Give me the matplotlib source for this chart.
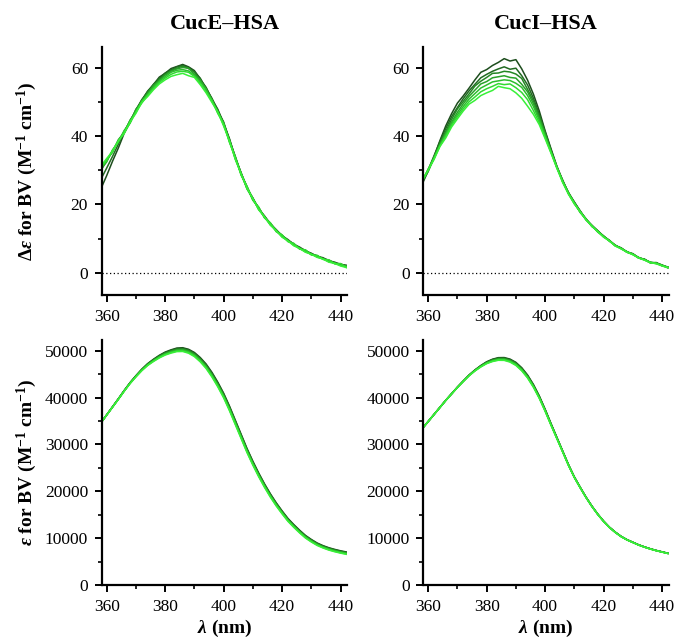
import matplotlib
matplotlib.use("Agg")
import matplotlib.pyplot as plt
from matplotlib.ticker import MultipleLocator

plt.rcParams['font.family'] = ['Liberation Serif', 'DejaVu Serif']
plt.rcParams['mathtext.fontset'] = 'custom'
plt.rcParams['mathtext.rm'] = 'Liberation Serif:bold'
plt.rcParams['mathtext.it'] = 'Liberation Serif:italic:bold'
plt.rcParams['mathtext.bf'] = 'Liberation Serif:bold'

# wavelength grid (nm)
wl = list(range(358, 443, 2))

# CD spectra, CucE-HSA (delta epsilon)
cd_cuce = [
    [24.5, 28.4, 32.6, 36.5, 40.8, 43.9, 47.7, 50.4, 53.1, 55.0, 57.2, 58.3, 59.7, 60.3, 60.9, 60.2, 59.1, 56.6, 54.2, 50.8, 47.8, 43.7, 39.2, 33.6, 29.2, 24.8, 21.8, 18.7, 16.6, 14.3, 12.6, 10.8, 9.7, 8.3, 7.5, 6.4, 5.7, 4.8, 4.4, 3.5, 3.1, 2.4, 2.2],
    [27.3, 30.6, 34.0, 37.6, 41.2, 44.4, 47.4, 50.6, 52.8, 55.1, 56.8, 58.4, 59.3, 60.2, 60.6, 60.0, 58.8, 56.9, 53.8, 51.0, 47.3, 44.1, 38.8, 34.0, 28.9, 25.2, 21.4, 19.1, 16.2, 14.5, 12.3, 11.0, 9.4, 8.5, 7.1, 6.6, 5.4, 5.0, 4.1, 3.7, 2.8, 2.6, 2.0],
    [29.8, 32.9, 35.4, 38.9, 41.0, 44.6, 47.2, 50.2, 52.9, 54.6, 56.6, 57.9, 59.1, 59.8, 60.4, 59.7, 58.6, 56.2, 54.0, 50.5, 47.5, 43.4, 38.9, 33.3, 29.1, 24.6, 21.9, 18.5, 16.5, 14.0, 12.5, 10.6, 9.5, 8.1, 7.3, 6.2, 5.6, 4.7, 4.2, 3.3, 2.9, 2.2, 2.0],
    [30.2, 32.4, 35.9, 38.3, 41.6, 44.0, 47.8, 49.9, 52.4, 54.8, 56.1, 57.8, 58.9, 59.6, 60.0, 59.8, 58.0, 56.4, 53.5, 50.7, 46.8, 43.8, 38.3, 33.9, 28.6, 25.0, 21.3, 18.9, 16.1, 14.3, 12.1, 10.8, 9.2, 8.4, 7.0, 6.4, 5.3, 4.9, 4.0, 3.5, 2.7, 2.4, 1.8],
    [30.6, 33.1, 35.2, 38.7, 40.9, 44.5, 46.9, 50.3, 52.1, 54.2, 56.0, 57.3, 58.6, 59.2, 59.4, 59.0, 57.7, 55.8, 53.7, 50.1, 47.2, 43.2, 38.7, 33.4, 29.0, 24.5, 21.6, 18.6, 16.4, 14.1, 12.4, 10.5, 9.5, 8.0, 7.2, 6.1, 5.5, 4.6, 4.1, 3.2, 2.9, 2.1, 1.9],
    [30.9, 32.7, 35.8, 38.2, 41.4, 43.7, 47.1, 49.6, 51.9, 53.8, 55.6, 56.9, 58.0, 58.7, 58.9, 58.6, 57.4, 55.3, 52.9, 50.4, 46.6, 43.6, 38.1, 33.8, 28.5, 25.3, 21.2, 19.2, 16.0, 14.6, 12.0, 11.1, 9.1, 8.6, 6.9, 6.7, 5.2, 5.1, 3.9, 3.8, 2.6, 2.7, 1.6],
    [31.2, 33.4, 35.5, 38.6, 40.7, 44.1, 46.6, 49.8, 51.5, 53.5, 55.2, 56.4, 57.4, 57.9, 58.3, 57.6, 57.1, 55.0, 52.6, 49.8, 47.0, 42.9, 38.5, 33.1, 28.9, 24.7, 21.7, 18.4, 16.3, 13.9, 12.3, 10.4, 9.3, 7.9, 7.1, 6.0, 5.4, 4.5, 4.0, 3.1, 2.7, 2.0, 1.5],
]

# CD spectra, CucI-HSA (delta epsilon)
cd_cuci = [
    [26.0, 29.8, 33.9, 38.6, 42.9, 46.5, 49.6, 51.7, 54.0, 56.4, 58.6, 59.4, 60.6, 61.5, 62.6, 61.9, 62.3, 59.6, 56.3, 52.2, 47.3, 41.5, 36.3, 31.2, 27.0, 23.4, 20.6, 18.1, 15.6, 13.9, 12.3, 10.7, 9.4, 8.0, 7.2, 6.1, 5.5, 4.4, 3.9, 3.0, 2.9, 2.2, 1.6],
    [26.4, 30.1, 34.2, 38.3, 42.1, 45.6, 48.3, 50.9, 53.2, 55.1, 57.0, 58.0, 58.9, 59.6, 60.2, 59.5, 59.8, 57.6, 54.9, 51.0, 46.4, 41.2, 36.0, 31.0, 26.8, 23.3, 20.7, 17.9, 15.7, 13.7, 12.2, 10.6, 9.5, 7.9, 7.3, 6.0, 5.6, 4.3, 4.0, 2.9, 3.0, 2.1, 1.7],
    [26.6, 29.6, 33.6, 37.9, 41.3, 44.8, 47.9, 50.1, 52.3, 54.6, 56.0, 57.1, 58.3, 58.4, 58.9, 58.7, 58.1, 56.8, 53.6, 50.2, 45.8, 40.8, 35.7, 30.8, 27.1, 23.1, 20.4, 18.0, 15.5, 13.8, 12.0, 10.8, 9.3, 8.1, 7.1, 6.2, 5.4, 4.5, 3.8, 3.1, 2.8, 2.3, 1.5],
    [26.8, 30.3, 33.4, 37.5, 40.8, 44.0, 46.9, 49.4, 51.6, 53.4, 55.2, 55.9, 57.0, 57.3, 57.6, 57.1, 56.9, 55.1, 52.9, 49.4, 45.2, 40.6, 35.5, 31.1, 26.6, 23.5, 20.3, 17.7, 15.8, 13.5, 12.3, 10.5, 9.4, 7.9, 7.2, 6.0, 5.5, 4.3, 3.9, 2.9, 2.9, 2.0, 1.6],
    [27.1, 29.9, 33.8, 37.2, 40.4, 43.6, 46.2, 48.6, 50.8, 52.4, 54.0, 54.9, 55.8, 56.1, 56.4, 56.2, 55.4, 54.2, 51.8, 48.6, 44.6, 40.1, 35.4, 30.7, 26.9, 23.2, 20.5, 17.6, 15.6, 13.7, 12.0, 10.7, 9.2, 8.0, 7.0, 6.1, 5.3, 4.4, 3.7, 3.0, 2.8, 2.2, 1.4],
    [26.9, 30.2, 33.3, 37.0, 39.9, 43.1, 45.6, 47.9, 50.0, 51.4, 52.9, 53.8, 54.5, 55.3, 55.0, 55.2, 54.1, 52.7, 50.6, 47.4, 43.9, 39.6, 35.2, 30.9, 26.5, 23.0, 20.1, 17.9, 15.4, 13.8, 11.9, 10.5, 9.4, 7.9, 7.1, 6.1, 5.4, 4.4, 3.8, 3.1, 2.6, 2.1, 1.6],
    [27.0, 30.0, 33.1, 36.9, 39.4, 42.6, 45.0, 47.3, 49.3, 50.4, 51.8, 52.6, 53.3, 54.5, 54.1, 53.8, 52.6, 51.0, 48.7, 46.3, 43.3, 39.2, 35.0, 30.6, 26.4, 23.0, 20.2, 17.8, 15.5, 13.6, 12.1, 10.4, 9.3, 7.8, 7.0, 6.0, 5.3, 4.3, 3.7, 2.9, 2.7, 2.0, 1.5],
]

# absorption spectra, CucE-HSA (epsilon)
abs_cuce = [
    [34600, 36320, 38040, 39760, 41530, 43200, 44680, 46060, 47250, 48190, 49030, 49720, 50200, 50580, 50650, 50320, 49640, 48560, 47180, 45400, 43300, 40950, 38200, 35180, 32160, 29140, 26420, 23900, 21580, 19460, 17540, 15820, 14210, 12900, 11690, 10580, 9720, 8960, 8400, 7950, 7600, 7300, 7050],
    [34600, 36310, 38030, 39740, 41500, 43170, 44640, 46010, 47180, 48110, 48940, 49610, 50080, 50450, 50520, 50180, 49490, 48410, 47020, 45230, 43130, 40780, 38030, 35020, 32010, 28990, 26280, 23770, 21450, 19340, 17430, 15710, 14110, 12800, 11590, 10490, 9630, 8870, 8320, 7870, 7520, 7220, 6970],
    [34600, 36310, 38010, 39720, 41480, 43130, 44590, 45950, 47120, 48030, 48840, 49510, 49970, 50330, 50380, 50040, 49350, 48250, 46860, 45070, 42970, 40620, 37870, 34860, 31850, 28850, 26140, 23630, 21330, 19220, 17310, 15610, 14000, 12700, 11500, 10390, 9540, 8790, 8230, 7780, 7430, 7130, 6880],
    [34600, 36300, 38000, 39700, 41450, 43100, 44550, 45900, 47050, 47950, 48750, 49400, 49850, 50200, 50250, 49900, 49200, 48100, 46700, 44900, 42800, 40450, 37700, 34700, 31700, 28700, 26000, 23500, 21200, 19100, 17200, 15500, 13900, 12600, 11400, 10300, 9450, 8700, 8150, 7700, 7350, 7050, 6800],
    [34600, 36290, 37990, 39680, 41420, 43070, 44510, 45850, 46980, 47870, 48660, 49290, 49730, 50070, 50120, 49760, 49050, 47950, 46540, 44730, 42630, 40280, 37530, 34540, 31550, 28550, 25860, 23370, 21070, 18980, 17090, 15390, 13800, 12500, 11300, 10210, 9360, 8610, 8070, 7620, 7270, 6970, 6720],
    [34600, 36290, 37970, 39660, 41400, 43030, 44460, 45790, 46920, 47790, 48560, 49190, 49620, 49950, 49980, 49620, 48910, 47790, 46380, 44570, 42470, 40120, 37370, 34380, 31390, 28410, 25720, 23230, 20950, 18860, 16970, 15290, 13690, 12400, 11210, 10110, 9270, 8530, 7980, 7530, 7180, 6880, 6630],
    [34600, 36280, 37960, 39640, 41370, 43000, 44420, 45740, 46850, 47710, 48470, 49080, 49500, 49820, 49850, 49480, 48760, 47640, 46220, 44400, 42300, 39950, 37200, 34220, 31240, 28260, 25580, 23100, 20820, 18740, 16860, 15180, 13590, 12300, 11110, 10020, 9180, 8440, 7900, 7450, 7100, 6800, 6550],
]

# absorption spectra, CucI-HSA (epsilon)
abs_cuci = [
    [33400, 34900, 36410, 37910, 39420, 40830, 42240, 43550, 44830, 45910, 46850, 47650, 48200, 48530, 48550, 48220, 47530, 46380, 44820, 42800, 40360, 37520, 34480, 31540, 28610, 25690, 23070, 20860, 18750, 16850, 15140, 13640, 12340, 11290, 10380, 9680, 9130, 8580, 8130, 7730, 7380, 7080, 6780],
    [33400, 34900, 36410, 37910, 39410, 40820, 42230, 43530, 44800, 45870, 46800, 47580, 48120, 48440, 48450, 48110, 47420, 46270, 44710, 42700, 40270, 37450, 34420, 31490, 28570, 25660, 23050, 20840, 18730, 16830, 15130, 13630, 12330, 11280, 10370, 9670, 9120, 8570, 8120, 7720, 7370, 7070, 6770],
    [33400, 34900, 36400, 37900, 39410, 40810, 42210, 43520, 44780, 45840, 46750, 47520, 48030, 48340, 48350, 48010, 47310, 46160, 44610, 42600, 40190, 37370, 34360, 31450, 28540, 25630, 23020, 20820, 18720, 16820, 15110, 13610, 12310, 11260, 10360, 9660, 9110, 8560, 8110, 7710, 7360, 7060, 6760],
    [33400, 34900, 36400, 37900, 39400, 40800, 42200, 43500, 44750, 45800, 46700, 47450, 47950, 48250, 48250, 47900, 47200, 46050, 44500, 42500, 40100, 37300, 34300, 31400, 28500, 25600, 23000, 20800, 18700, 16800, 15100, 13600, 12300, 11250, 10350, 9650, 9100, 8550, 8100, 7700, 7350, 7050, 6750],
    [33400, 34900, 36400, 37900, 39390, 40790, 42190, 43480, 44720, 45760, 46650, 47380, 47870, 48160, 48150, 47790, 47090, 45940, 44390, 42400, 40010, 37230, 34240, 31350, 28460, 25570, 22980, 20780, 18680, 16780, 15090, 13590, 12290, 11240, 10340, 9640, 9090, 8540, 8090, 7690, 7340, 7040, 6740],
    [33400, 34900, 36390, 37890, 39390, 40780, 42170, 43470, 44700, 45730, 46600, 47320, 47780, 48060, 48050, 47690, 46980, 45830, 44290, 42300, 39930, 37150, 34180, 31310, 28430, 25540, 22950, 20760, 18670, 16770, 15070, 13570, 12270, 11220, 10330, 9630, 9080, 8530, 8080, 7680, 7330, 7030, 6730],
    [33400, 34900, 36390, 37890, 39380, 40770, 42160, 43450, 44670, 45690, 46550, 47250, 47700, 47970, 47950, 47580, 46870, 45720, 44180, 42200, 39840, 37080, 34120, 31260, 28390, 25510, 22930, 20740, 18650, 16750, 15060, 13560, 12260, 11210, 10320, 9620, 9070, 8520, 8070, 7670, 7320, 7020, 6720],
]

titles = ["CucE\u2013HSA", "CucI\u2013HSA"]
greens = ['#1d4d1d', '#216a21', '#258625', '#29a229', '#2dbd2d', '#31d931', '#38f038']

fig = plt.figure(figsize=(6.78, 6.43), dpi=100)
W, H = 678, 643
ax_tl = fig.add_axes([102 / W, 1 - 295 / H, 245 / W, 248 / H])
ax_tr = fig.add_axes([423.5 / W, 1 - 295 / H, 245 / W, 248 / H])
ax_bl = fig.add_axes([102 / W, 1 - 585 / H, 245 / W, 245 / H])
ax_br = fig.add_axes([423.5 / W, 1 - 585 / H, 245 / W, 245 / H])


def style(ax):
    for side in ['top', 'right']:
        ax.spines[side].set_visible(False)
    for side in ['left', 'bottom']:
        ax.spines[side].set_linewidth(1.6)
    ax.set_xlim(358.4, 442.2)
    ax.xaxis.set_major_locator(MultipleLocator(20))
    ax.xaxis.set_minor_locator(MultipleLocator(10))
    ax.tick_params(which='major', direction='out', length=5, width=1.4,
                   labelsize=12.5, pad=5)
    ax.tick_params(which='minor', direction='out', length=3, width=1.2)
    ax.tick_params(axis='x', which='major', pad=5)


# top row: CD
for ax, curves, title in [(ax_tl, cd_cuce, titles[0]), (ax_tr, cd_cuci, titles[1])]:
    style(ax)
    ax.axhline(0, color='black', lw=0.9, ls=(0, (1, 2)))
    for ys, c in zip(curves, greens):
        ax.plot(wl, ys, color=c, lw=1.1)
    ax.set_ylim(-6.5, 66)
    ax.yaxis.set_major_locator(MultipleLocator(20))
    ax.yaxis.set_minor_locator(MultipleLocator(10))
    ax.set_title(title, fontsize=16, fontweight='bold', pad=13)

# bottom row: absorbance
for ax, curves in [(ax_bl, abs_cuce), (ax_br, abs_cuci)]:
    style(ax)
    for ys, c in zip(curves, greens):
        ax.plot(wl, ys, color=c, lw=1.1)
    ax.set_ylim(0, 52300)
    ax.yaxis.set_major_locator(MultipleLocator(10000))
    ax.yaxis.set_minor_locator(MultipleLocator(5000))
    ax.set_xlabel(r'$\lambda$ (nm)', fontsize=14, fontweight='bold', labelpad=2)

ax_tl.set_ylabel(r'$\Delta\varepsilon$ for BV (M$^{-1}$ cm$^{-1}$)',
                 fontsize=14, fontweight='bold')
ax_bl.set_ylabel(r'$\varepsilon$ for BV (M$^{-1}$ cm$^{-1}$)',
                 fontsize=14, fontweight='bold')
ax_tl.yaxis.set_label_coords(-0.258, 0.5)
ax_bl.yaxis.set_label_coords(-0.258, 0.5)

fig.savefig("out.png", dpi=100)
